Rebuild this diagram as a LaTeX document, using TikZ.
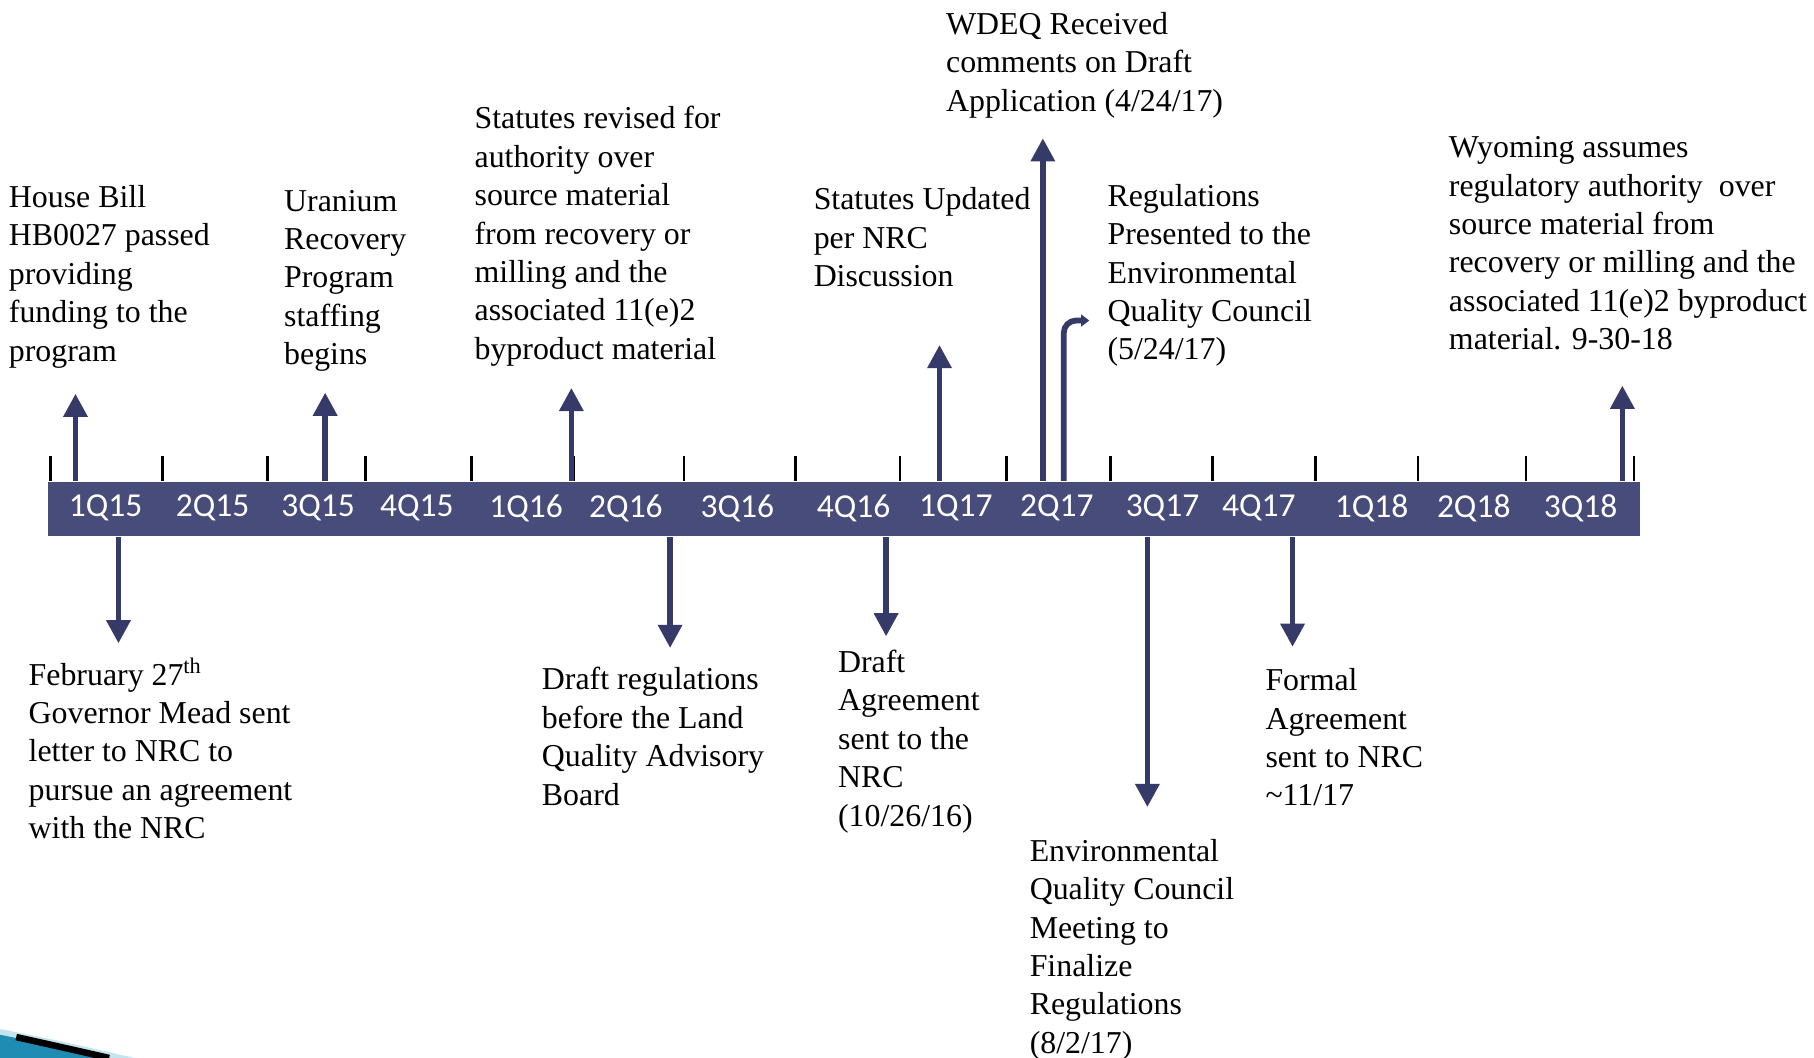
\documentclass[tikz,border=0pt]{standalone}
\usepackage{fontspec}
\setmainfont{Liberation Serif}
\newfontfamily\qfont{Carlito}
\usetikzlibrary{arrows.meta}
\definecolor{barblue}{HTML}{474C7A}
\definecolor{arrowblue}{HTML}{363A68}
\definecolor{swoosh}{HTML}{1F8DB3}
\definecolor{swooshlight}{HTML}{C4E4EF}
\tikzset{
  event/.style={anchor=north west, align=left, inner sep=0pt, font=\fontsize{7.8}{9.4}\selectfont},
  evarrow/.style={arrowblue, line width=1.4pt, -{Triangle[width=0.2cm,length=0.2cm]}},
  quarter/.style={text=white, inner sep=0pt, font=\qfont\fontsize{8.2}{10}\selectfont}
}

\begin{document}
\begin{tikzpicture}[x=0.01cm,y=-0.01cm]
    \useasboundingbox (0,0) rectangle (1562,911);
    % corner swoosh
    \fill[swooshlight] (0,886) .. controls (50,896) .. (116,911) -- (0,911) -- cycle;
    \fill[swoosh] (0,891) .. controls (40,899) .. (92,911) -- (0,911) -- cycle;
    \draw[black, line width=1.6pt] (14,893) .. controls (50,901) .. (94,911);
    % ticks and bar
    \foreach \x in {43.5,140,230,315,406,494,589,685,775,867,956,1044,1133,1221,1314,1407} {
        \draw[line width=0.7pt] (\x,393) -- (\x,414);
    }
    \node[fill=barblue, minimum width=13.7cm, minimum height=0.47cm, inner sep=0pt, anchor=north west] (bar) at (40.6,414) {};
    \foreach \x/\q in {91/1Q15,183/2Q15,274/3Q15,359/4Q15,453/1Q16,539/2Q16,635/3Q16,735/4Q16,823/1Q17,910/2Q17,1001/3Q17,1084/4Q17,1181/1Q18,1269/2Q18,1361/3Q18} {
        \node[quarter] at (\x,437.5) {\q};
    }
    % events above
    \node[event] (hb) at (7,159) {House Bill\\HB0027 passed\\providing\\funding to the\\program};
    \node[event] (urp) at (244,163) {Uranium\\Recovery\\Program\\staffing\\begins};
    \node[event] (srev) at (408,91) {Statutes revised for\\authority over\\source material\\from recovery or\\milling and the\\associated 11(e)2\\byproduct material};
    \node[event] (supd) at (700,161) {Statutes Updated\\per NRC\\Discussion};
    \node[event] (wdeq) at (814,10) {WDEQ Received\\comments on Draft\\Application (4/24/17)};
    \node[event] (regp) at (953,158) {Regulations\\Presented to the\\Environmental\\Quality Council\\(5/24/17)};
    \node[event] (wyo) at (1247,117) {Wyoming assumes\\regulatory authority \ over\\source material from\\recovery or milling and the\\associated 11(e)2 byproduct\\material. 9-30-18};
    % events below
    \node[event] (feb) at (24,566) {February 27\textsuperscript{th}\\Governor Mead sent\\letter to NRC to\\pursue an agreement\\with the NRC};
    \node[event] (dreg) at (466,574) {Draft regulations\\before the Land\\Quality Advisory\\Board};
    \node[event] (dagr) at (721,559) {Draft\\Agreement\\sent to the\\NRC\\(10/26/16)};
    \node[event] (eqc) at (886,722) {Environmental\\Quality Council\\Meeting to\\Finalize\\Regulations\\(8/2/17)};
    \node[event] (fagr) at (1089,575) {Formal\\Agreement\\sent to NRC\\\textasciitilde11/17};
    % arrow tips
    \coordinate (up1) at (65,339);
    \coordinate (up2) at (280,338);
    \coordinate (up3) at (492,334);
    \coordinate (up4) at (809,297);
    \coordinate (up5) at (898,119);
    \coordinate (up6) at (916,276);
    \coordinate (rt6) at (938,276);
    \coordinate (up7) at (1397,332);
    \coordinate (dn1) at (102,554);
    \coordinate (dn2) at (577,558);
    \coordinate (dn3) at (763,548);
    \coordinate (dn4) at (988,695);
    \coordinate (dn5) at (1113,557);
    \foreach \t in {up1,up2,up3,up4,up5,up7} {
        \draw[evarrow] (bar.north -| \t) -- (\t);
    }
    \foreach \t in {dn1,dn2,dn3,dn4,dn5} {
        \draw[evarrow] (bar.south -| \t) -- (\t);
    }
    \draw[evarrow, -{Triangle[width=0.1cm,length=0.07cm]}, rounded corners=3] (bar.north -| up6) |- (rt6);
\end{tikzpicture}
\end{document}
